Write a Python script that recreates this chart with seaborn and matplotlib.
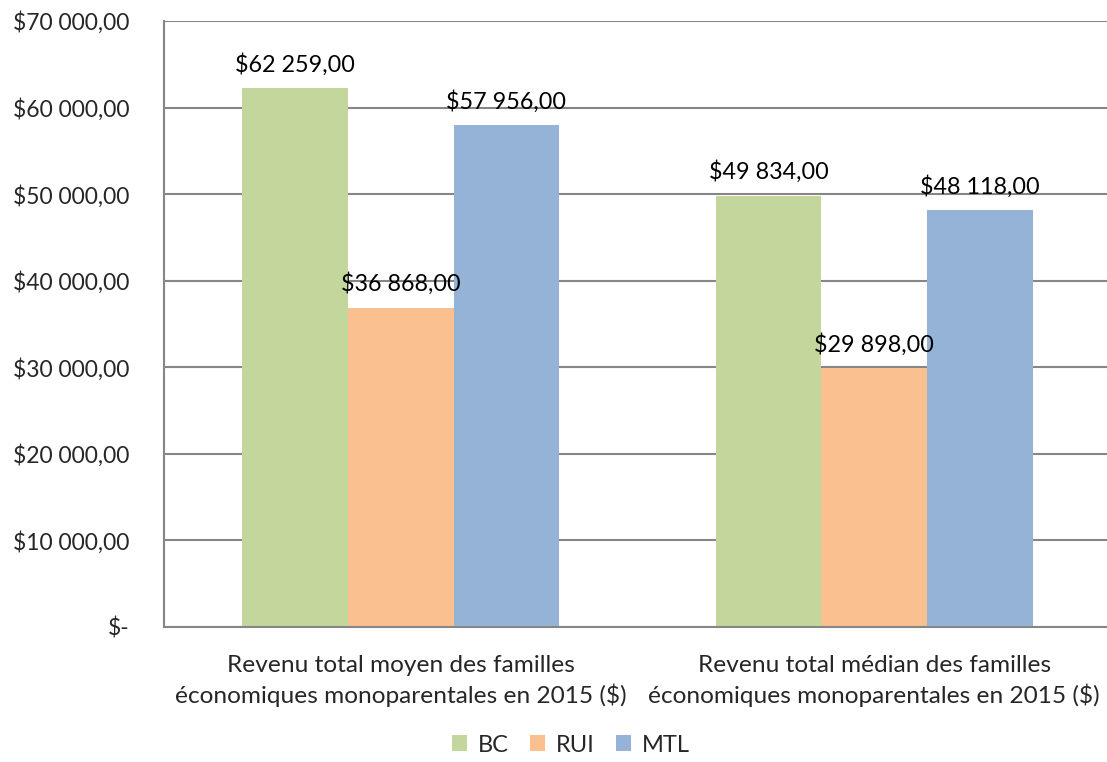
import matplotlib
matplotlib.use("Agg")
import matplotlib.pyplot as plt
import seaborn as sns
import pandas as pd

categories = [
    "Revenu total moyen des familles\néconomiques monoparentales en 2015 ($)",
    "Revenu total médian des familles\néconomiques monoparentales en 2015 ($)",
]
regions = ["BC", "RUI", "MTL"]
bc_values = [62259, 49834]
rui_values = [36868, 29898]
mtl_values = [57956, 48118]
colors = ["#C3D69B", "#FAC090", "#95B3D7"]
y_ticks = [0, 10000, 20000, 30000, 40000, 50000, 60000, 70000]


def money(v):
    if v == 0:
        return "$-"
    return "$" + f"{v:,.2f}".replace(",", " ").replace(".", ",")


rows = []
for reg, vals in zip(regions, [bc_values, rui_values, mtl_values]):
    for cat, v in zip(categories, vals):
        rows.append({"categorie": cat, "region": reg, "valeur": v})
df = pd.DataFrame(rows)

sns.set_style("white")
plt.rcParams["font.family"] = ["Lato", "DejaVu Sans"]
grey = "#868686"

fig = plt.figure(figsize=(11.07, 7.62), dpi=100)
ax = fig.add_axes([164 / 1107, 1 - 627 / 762, (1111 - 164) / 1107, (627 - 21) / 762])

sns.barplot(data=df, x="categorie", y="valeur", hue="region", order=categories,
            hue_order=regions, palette=colors, width=0.669, gap=0, saturation=1,
            linewidth=0, ax=ax, legend=True)

for cont in ax.containers:
    ax.bar_label(cont, labels=[money(v) for v in cont.datavalues], padding=9,
                 fontsize=16.8, color="black")

ax.set_ylim(0, 70000)
ax.set_xlim(-0.5, 1.5)
ax.set_yticks(y_ticks)
ax.set_yticklabels([money(v) for v in y_ticks], fontsize=16.5)
ax.set_xticks([-0.5, 0.5, 1.5], minor=False)
ax.set_xticklabels(["", "", ""])
ax.set_xticks([0, 1], minor=True)
ax.set_xticklabels(categories, minor=True, fontsize=17.6, linespacing=1.42)
ax.tick_params(axis="x", which="minor", length=0, pad=20)
ax.tick_params(axis="x", which="major", length=8, color=grey, width=1.2, direction="out")
ax.tick_params(axis="y", length=9, color=grey, width=1.2, direction="out", pad=16)
ax.yaxis.grid(True, color=grey, linewidth=1.5)
ax.set_axisbelow(True)
ax.set_xlabel("")
ax.set_ylabel("")

for side in ["top", "right"]:
    ax.spines[side].set_visible(False)
for side in ["left", "bottom"]:
    ax.spines[side].set_color(grey)
    ax.spines[side].set_linewidth(1.5)

handles, labels = ax.get_legend_handles_labels()
ax.legend(handles, labels, loc="center", bbox_to_anchor=(571 / 1107, 1 - 745 / 762),
          bbox_transform=fig.transFigure, ncol=3, frameon=False, fontsize=17,
          handlelength=0.65, handleheight=0.65, handletextpad=0.45, columnspacing=0.9)

fig.savefig("out.png", dpi=100)
